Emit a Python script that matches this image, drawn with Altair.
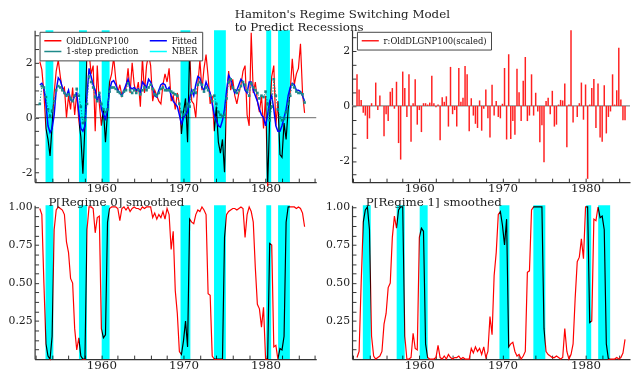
import altair as alt
import pandas as pd

START = 1952.5
STEP = 0.25

red = [2.05, 1.75, 0.9, -0.4, -0.8, -1.4, -0.3, 0.9, 1.7, 2.1,
       1.5, 1.0, 1.1, 0.0, 0.8, 0.3, 1.1, 0.1, 0.9, -0.1,
       -0.7, -2.05, -0.3, 2.4, 2.4, 1.6, 1.9, -0.5, 1.9, 0.5,
       -0.3, 0.3, -0.9, 0.2, 1.3, 1.6, 2.2, 1.4, 0.9, 1.2,
       0.8, 1.0, 1.1, 1.8, 0.9, 2.0, 1.2, 0.9, 1.3, 0.4,
       2.2, 0.9, 1.9, 2.3, 1.9, 0.6, 1.0, 0.8, 0.6, 0.5,
       1.2, 1.6, 1.3, 1.8, 0.6, 0.8, 0.3, 0.9, 0.5, -0.6,
       0.2, 0.7, -0.9, 2.5, 0.6, 0.5, 0.0, 1.2, 2.1, 1.0,
       1.8, 2.3, 1.5, 0.5, 0.8, -0.5, 0.4, -0.9, -1.3, -0.8,
       -2.0, 0.6, 1.7, 1.0, 1.4, 0.8, 0.5, 0.9, 1.2, 1.7,
       1.9, 0.1, -0.3, 3.1, 0.9, 1.3, 0.6, 0.2, 0.8, -0.4,
       0.8, -2.5, 0.0, 1.5, 1.9, -0.3, 0.6, -1.35, -1.45, -0.2,
       -0.8, 0.3, 0.95, 2.15, 1.2, 1.6, 1.8, 2.7, 0.9, 0.17]

fitted = [1.2, 1.25, 1.1, 0.5, -0.3, -0.55, -0.4, 0.1, 1.0, 1.45,
          1.35, 1.1, 0.9, 0.8, 1.0, 0.65, 0.6, 0.8, 0.9, 0.2,
          -0.4, -0.5, -0.3, 0.8, 1.8, 1.5, 1.2, 1.0, 0.6, 0.9,
          0.3, 0.1, -0.05, 0.3, 1.0, 1.3, 1.35, 1.2, 1.0, 0.9,
          0.8, 1.0, 1.2, 1.4, 1.1, 1.05, 1.1, 1.0, 1.05, 0.9,
          1.3, 1.2, 1.1, 1.4, 1.3, 1.1, 0.8, 0.75, 1.0, 1.2,
          1.25, 1.2, 1.0, 1.1, 0.8, 0.6, 0.5, 0.4, 0.1, -0.25,
          0.0, 0.1, 0.2, 0.7, 1.0, 0.8, 1.2, 1.5, 1.45, 1.1,
          1.0, 1.3, 1.1, 0.9, 0.5, 0.1, -0.1, -0.3, -0.35, -0.1,
          0.3, 1.0, 1.55, 1.4, 1.1, 0.9, 1.0, 1.2, 1.4, 1.3,
          1.0, 0.9, 1.3, 1.3, 1.0, 0.8, 0.6, 0.3, 0.1, 0.0,
          -0.3, 0.1, 0.6, 0.8, 0.3, -0.3, -0.5, -0.5, -0.3, 0.0,
          0.3, 0.8, 1.1, 1.25, 1.2, 1.0, 1.0, 0.95, 0.8, 0.6]

pred = [0.5, 1.15, 1.1, 0.75, 0.3, 0.05, 0.25, 0.6, 1.0, 1.15,
        1.1, 1.0, 0.9, 0.8, 0.85, 0.7, 0.6, 0.8, 1.05, 0.8,
        0.4, -0.2, -0.1, 0.5, 1.5, 1.3, 1.1, 0.75, 0.6, 0.9,
        0.5, 0.3, 0.2, 0.3, 0.95, 1.1, 1.1, 1.05, 0.95, 0.9,
        0.8, 0.95, 1.0, 1.25, 1.0, 0.9, 1.0, 0.9, 1.0, 0.85,
        1.0, 1.1, 1.0, 1.1, 1.2, 1.05, 0.85, 0.8, 0.9, 1.05,
        1.1, 1.0, 1.0, 1.0, 0.95, 0.9, 0.85, 0.8, 0.5, 0.2,
        0.1, 0.3, 0.5, 0.4, 0.9, 1.0, 0.9, 1.2, 1.3, 1.2,
        0.95, 1.1, 1.0, 0.8, 0.6, 0.8, 0.5, 0.2, 0.1, 0.05,
        0.1, 0.7, 1.3, 1.4, 1.1, 1.0, 0.9, 1.0, 1.15, 1.3,
        1.2, 1.0, 0.8, 1.25, 1.1, 1.0, 0.9, 0.7, 0.8, 0.75,
        0.95, 0.5, -0.1, 0.4, 1.4, 0.8, 0.3, 0.0, -0.1, -0.05,
        0.2, 0.5, 0.8, 1.2, 1.1, 0.95, 0.9, 0.9, 0.85, 0.55]

resid = [1.15, 0.6, 0.22, -0.25, -0.35, -1.2, -0.45, 0.1, 0.0, 0.85,
         -0.15, 0.38, 0.0, -1.1, -0.3, -0.55, 0.52, 0.65, -0.1, 0.88,
         -1.35, -1.95, 1.25, 0.65, -0.4, 1.15, -1.3, 0.1, 0.97, -0.68,
         -0.15, -0.95, 0.1, 0.1, 0.05, 0.12, 1.1, 0.1, -0.05, 0.05,
         -1.25, 0.32, 0.15, 0.35, -0.75, 1.42, -0.3, -0.15, -0.75, 1.38,
         0.15, 0.3, 1.45, 1.15, -0.92, 0.28, -0.35, -0.65, -0.8, 0.2,
         -0.9, -0.1, 0.6, -0.45, -1.15, 0.77, -0.35, 0.18, -0.4, -0.45,
         0.08, 1.38, -1.22, 1.88, -1.2, -0.55, -1.05, 1.35, 0.5, -0.55,
         0.92, 1.78, -0.55, -0.35, 1.15, -0.35, 0.48, -0.2, -1.32, -0.7,
         -2.05, 0.18, 0.3, -0.3, 0.55, -0.75, -0.68, 0.05, 0.22, 0.2,
         0.82, -1.5, 0.05, 2.75, -0.6, 0.0, -0.4, 0.1, 0.85, -0.5,
         0.78, -2.65, 0.05, 0.65, 0.98, -0.8, 0.82, -1.15, -1.3, 0.75,
         -1.0, -0.4, -0.2, 1.15, 0.05, 0.57, 2.12, 0.23, -0.52, -0.52]

p0 = [0.99, 0.95, 0.5, 0.1, 0.02, 0.0, 0.15, 0.85, 0.98, 1.0,
      0.99, 0.98, 0.95, 0.77, 0.7, 0.53, 0.5, 0.2, 0.06, 0.14,
      0.02, 0.0, 0.0, 0.85, 1.0, 1.0, 0.99, 0.83, 0.93, 0.94,
      0.2, 0.14, 0.16, 0.9, 0.99, 1.0, 1.0, 1.0, 0.99, 0.91,
      0.99, 1.0, 0.98, 1.0, 0.97, 0.99, 1.0, 0.99, 0.99, 0.98,
      1.0, 0.99, 1.0, 1.0, 1.0, 0.93, 0.96, 0.92, 0.95, 0.93,
      0.97, 0.92, 0.99, 0.95, 0.72, 0.84, 0.45, 0.3, 0.05, 0.03,
      0.12, 0.25, 0.08, 0.92, 0.9, 0.89, 0.95, 0.98, 0.97, 1.0,
      0.98, 0.95, 0.43, 0.42, 0.02, 0.0, 0.0, 0.0, 0.0, 0.0,
      0.8, 0.95, 0.97, 0.98, 0.99, 0.99, 0.98, 0.99, 1.0, 0.99,
      0.8, 0.95, 1.0, 0.97, 0.9, 0.6, 0.36, 0.33, 0.21, 0.34,
      0.0, 0.0, 0.76, 0.75, 0.08, 0.09, 0.0, 0.07, 0.06, 0.15,
      0.9, 1.0, 1.0, 1.0, 1.0, 0.99, 1.0, 0.99, 0.96, 0.87]

p1 = [0.01, 0.05, 0.5, 0.9, 0.98, 1.0, 0.85, 0.15, 0.02, 0.0,
      0.01, 0.02, 0.05, 0.23, 0.3, 0.47, 0.5, 0.8, 0.94, 0.86,
      0.98, 1.0, 1.0, 0.15, 0.0, 0.0, 0.01, 0.17, 0.07, 0.06,
      0.8, 0.86, 0.84, 0.1, 0.01, 0.0, 0.0, 0.0, 0.01, 0.09,
      0.01, 0.0, 0.02, 0.0, 0.03, 0.01, 0.0, 0.01, 0.01, 0.02,
      0.0, 0.01, 0.0, 0.0, 0.0, 0.07, 0.04, 0.08, 0.05, 0.07,
      0.03, 0.08, 0.01, 0.05, 0.28, 0.16, 0.55, 0.7, 0.95, 0.97,
      0.88, 0.75, 0.92, 0.08, 0.1, 0.11, 0.05, 0.02, 0.03, 0.0,
      0.02, 0.05, 0.57, 0.58, 0.98, 1.0, 1.0, 1.0, 1.0, 1.0,
      0.2, 0.05, 0.03, 0.02, 0.01, 0.01, 0.02, 0.01, 0.0, 0.01,
      0.2, 0.05, 0.0, 0.03, 0.1, 0.4, 0.64, 0.67, 0.79, 0.66,
      1.0, 1.0, 0.24, 0.25, 0.92, 0.91, 1.0, 0.93, 0.94, 0.85,
      0.1, 0.0, 0.0, 0.0, 0.0, 0.01, 0.0, 0.01, 0.04, 0.13]

nber_start = [1953.2, 1957.27, 1960.04, 1969.64, 1973.72, 1980.08, 1981.52]
nber_end = [1954.15, 1958.24, 1961.0, 1970.84, 1975.16, 1980.68, 1982.96]

SERIES = ["OldDLGNP100", "Fitted", "1-step prediction", "NBER"]
COLORS = ["#ff0000", "#0000ff", "#1f8a8a", "#00ffff"]
RES_NAME = "r:OldDLGNP100(scaled)"

FONT = "DejaVu Serif"
TXT = "#222222"
AX = "#333333"
CYAN = "#00ffff"
TEAL = "#1f8a8a"


def times(vals):
    return [START + STEP * i for i in range(len(vals))]


def frame(vals, name=None):
    d = pd.DataFrame({"t": times(vals), "v": vals})
    if name is not None:
        d["s"] = name
    return d


XT_L = list(range(1952, 1987, 2))
XT_R = list(range(1952, 1985, 2))
YT_TL = [-2.0 + 0.5 * k for k in range(11)]
YT_TR = [-2.5 + 0.5 * k for k in range(11)]
YT_B = [0.0625 * k for k in range(1, 17)]

common_axis = dict(title=None, grid=False, labelOverlap=False, labelFlush=False,
                   tickSize={"expr": "-4"}, labelFont=FONT, labelColor=TXT,
                   domainColor=AX, tickColor=AX, domainWidth=1.2, tickWidth=1)


def xaxis(vals):
    return alt.Axis(values=vals, labelExpr="datum.value % 10 == 0 ? '' + datum.value : ''",
                    labelPadding=5, labelFontSize=12, **common_axis)


def yaxis(vals, expr):
    return alt.Axis(values=vals, labelExpr=expr, labelPadding=6.5, labelFontSize=11,
                    **common_axis)


EXPR_INT2 = "datum.value % 2 == 0 ? '' + datum.value : ''"
EXPR_Q = "(datum.value * 4) % 1 == 0 ? format(datum.value, '.2f') : ''"

xs_l = alt.Scale(domain=[1951.87, 1986.17], nice=False, zero=False)
xs_r = alt.Scale(domain=[1951.9, 1985.35], nice=False, zero=False)
ys_tl = alt.Scale(domain=[-2.36, 3.19], nice=False, zero=False)
ys_tr = alt.Scale(domain=[-2.77, 2.75], nice=False, zero=False)
ys_b = alt.Scale(domain=[0, 1.011], nice=False, zero=False)

WL, WR = 285.7, 282
HT, HB = 154, 156


def legend_params(cols):
    return dict(title=None, orient="none", legendX=5, legendY=1.5, columns=cols,
                direction="horizontal",
                symbolType="stroke", symbolSize=300, symbolStrokeWidth=1.6,
                labelFont=FONT, labelFontSize=8.5, labelColor="#111111",
                strokeColor="#444444", fillColor="white", padding=4,
                rowPadding=1, columnPadding=10, labelOffset=4, clipHeight=10)


color_tl = alt.Color("s:N", scale=alt.Scale(domain=SERIES, range=COLORS), sort=SERIES,
                     legend=alt.Legend(**legend_params(2)))

X_L = alt.X("t:Q", scale=xs_l, axis=xaxis(XT_L))
Y_TL = alt.Y("v:Q", scale=ys_tl, axis=yaxis(YT_TL, EXPR_INT2))

zero_df = pd.DataFrame({"v": [0.0]})
nber_df = pd.DataFrame({"a": nber_start, "b": nber_end, "s": "NBER"})

tl_zero = alt.Chart(zero_df).mark_rule(color="#888888", strokeWidth=1.2).encode(y=Y_TL)
tl_red = alt.Chart(frame(red, "OldDLGNP100")).mark_line(strokeWidth=1.2).encode(
    x=X_L, y=Y_TL, color=color_tl)
tl_blue = alt.Chart(frame(fitted, "Fitted")).mark_line(strokeWidth=1.5).encode(
    x=X_L, y=Y_TL, color=color_tl)
tl_pred = alt.Chart(frame(pred, "1-step prediction")).mark_line(
    strokeWidth=1.0, strokeDash=[1.5, 1.5]).encode(x=X_L, y=Y_TL, color=color_tl)
tl_sq = alt.Chart(frame(pred)).mark_square(size=7, color=TEAL, opacity=1).encode(x=X_L, y=Y_TL)
tl_band = alt.Chart(nber_df).mark_rect(filled=False, strokeWidth=0, blend="multiply").encode(
    x=alt.X("a:Q", scale=xs_l, axis=xaxis(XT_L)), x2="b:Q", color=color_tl,
    fill=alt.value(CYAN))

tl = alt.layer(tl_zero, tl_red, tl_blue, tl_pred, tl_sq, tl_band).properties(width=WL, height=HT)

X_R = alt.X("t:Q", scale=xs_r, axis=xaxis(XT_R))
Y_TR = alt.Y("v:Q", scale=ys_tr, axis=yaxis(YT_TR, EXPR_INT2))
color_tr = alt.Color("s:N", scale=alt.Scale(domain=[RES_NAME], range=["#ff2020"]),
                     legend=alt.Legend(**legend_params(1)))
tr_zero = alt.Chart(zero_df).mark_rule(color="#888888", strokeWidth=1.2).encode(y=Y_TR)
tr_bars = alt.Chart(frame(resid, RES_NAME)).mark_rule(strokeWidth=1.5).encode(
    x=X_R, y=Y_TR, y2=alt.datum(0), color=color_tr)
tr = alt.layer(tr_zero, tr_bars).properties(width=WR, height=HT)


def sub_title(text):
    return alt.TitleParams(text, anchor="start", dx=14, font=FONT, fontSize=12,
                           fontWeight="normal", color=TXT, offset=-8.5, frame="group")


def prob_panel(vals, xs, xt, w, title):
    X = alt.X("t:Q", scale=xs, axis=xaxis(xt))
    Y = alt.Y("v:Q", scale=ys_b, axis=yaxis(YT_B, EXPR_Q))
    line = alt.Chart(frame(vals)).mark_line(color="#ff0000", strokeWidth=1.2).encode(x=X, y=Y)
    band = alt.Chart(nber_df).mark_rect(color=CYAN, blend="multiply").encode(
        x=alt.X("a:Q", scale=xs, axis=xaxis(xt)), x2="b:Q")
    return alt.layer(line, band).properties(width=w, height=HB, title=sub_title(title))


bl = prob_panel(p0, xs_l, XT_L, WL, "P[Regime 0] smoothed")
br = prob_panel(p1, xs_r, XT_R, WR, "P[Regime 1] smoothed")

main_title = alt.TitleParams(["Hamiton's Regime Switching Model", "to Predict Recessions"],
                             anchor="start", dx=230, font=FONT, fontSize=12,
                             fontWeight="normal", color=TXT, lineHeight=13, offset=-4.2)

chart = alt.concat(tl, tr, bl, br, columns=2, spacing={"row": 23.5, "column": 36},
                   bounds="flush", align="each", title=main_title).resolve_scale(
    color="independent").properties(
    padding={"left": 0, "top": -3, "right": 0, "bottom": 0},
    background="white").configure_view(stroke=None)

chart.save("out.html", embed_options={"renderer": "svg", "actions": False})
